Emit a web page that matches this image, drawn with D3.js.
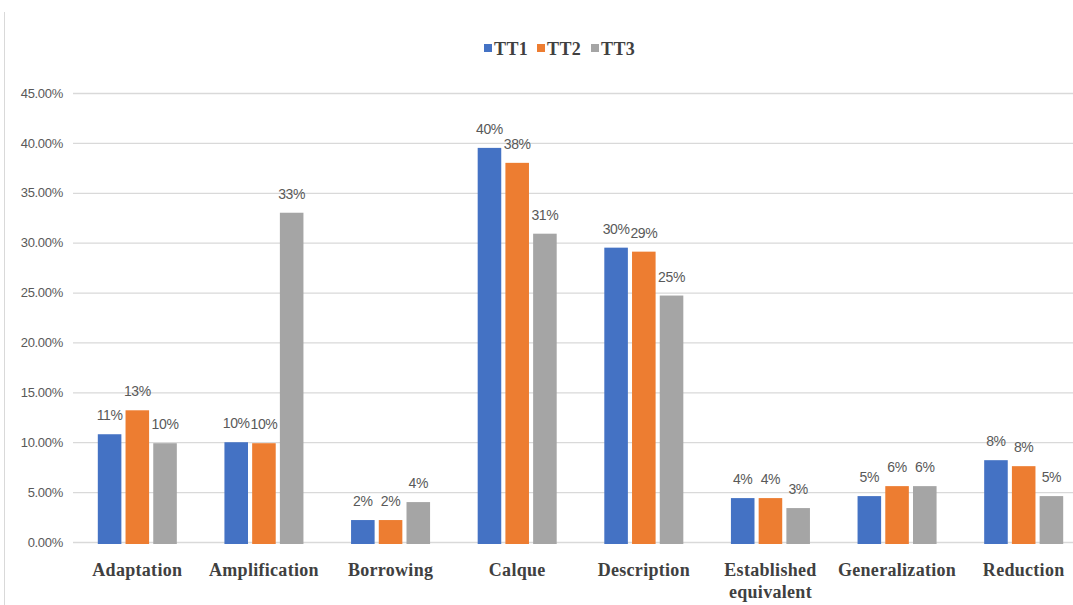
<!DOCTYPE html>
<html>
<head>
<meta charset="utf-8">
<script src="https://cdn.jsdelivr.net/npm/d3@7"></script>
<style>
  body { margin: 0; background: #fff; }
  svg { display: block; }
</style>
</head>
<body>
<svg id="chart"></svg>
<script>
var width = 1073;
var height = 605;

var categories = ["Adaptation", "Amplification", "Borrowing", "Calque", "Description",
  "Established equivalent", "Generalization", "Reduction"];
var series = ["TT1", "TT2", "TT3"];
var tt1 = [10.8, 10.0, 2.2, 39.5, 29.5, 4.4, 4.6, 8.2];
var tt2 = [13.2, 9.9, 2.2, 38.0, 29.1, 4.4, 5.6, 7.6];
var tt3 = [9.9, 33.0, 4.0, 30.9, 24.7, 3.4, 5.6, 4.6];
var yTicks = [0, 5, 10, 15, 20, 25, 30, 35, 40, 45];
var colors = ["#4472C4", "#ED7D31", "#A5A5A5"];

var values = [tt1, tt2, tt3];

var svg = d3.select("#chart").attr("width", width).attr("height", height);

// thin frame line on the left
svg.append("line")
  .attr("x1", 4.5).attr("x2", 4.5)
  .attr("y1", 12).attr("y2", height)
  .attr("stroke", "#d9d9d9").attr("stroke-width", 1);

var x0 = d3.scaleBand()
  .domain(categories)
  .range([74, 1087])
  .paddingInner(0.376)
  .paddingOuter(0.188);

var x1 = d3.scaleBand()
  .domain(series)
  .range([0, x0.bandwidth()])
  .paddingInner(0.15);

var y = d3.scaleLinear()
  .domain([0, 45])
  .range([542, 93]);

// gridlines + tick labels
var yAxis = svg.append("g")
  .attr("transform", "translate(73,0)")
  .call(d3.axisLeft(y)
    .tickValues(yTicks)
    .tickSize(-(width - 73))
    .tickPadding(10)
    .tickFormat(function(d) { return d3.format(".2f")(d) + "%"; }));

yAxis.select(".domain").remove();
yAxis.selectAll(".tick line")
  .attr("stroke", "#d9d9d9")
  .attr("stroke-width", 1.3);
yAxis.selectAll(".tick text")
  .attr("fill", "#595959")
  .style("font-family", "Liberation Sans, Arial, sans-serif")
  .style("font-size", "13px")
  .attr("letter-spacing", "-0.3");

// bars
var rows = [];
categories.forEach(function(c, i) {
  series.forEach(function(s, j) {
    rows.push({ cat: c, ser: s, idx: j, value: values[j][i] });
  });
});

var bars = svg.append("g");

bars.selectAll("rect")
  .data(rows)
  .enter()
  .append("rect")
  .attr("x", function(d) { return x0(d.cat) + x1(d.ser); })
  .attr("y", function(d) { return y(d.value); })
  .attr("width", x1.bandwidth())
  .attr("height", function(d) { return y(0) - y(d.value) + 2; })
  .attr("fill", function(d) { return colors[d.idx]; });

bars.selectAll("text")
  .data(rows)
  .enter()
  .append("text")
  .attr("x", function(d) { return x0(d.cat) + x1(d.ser) + x1.bandwidth() / 2; })
  .attr("y", function(d) { return y(d.value) - 14; })
  .attr("text-anchor", "middle")
  .attr("fill", "#595959")
  .style("font-family", "Liberation Sans, Arial, sans-serif")
  .style("font-size", "14px")
  .attr("letter-spacing", "-0.4")
  .text(function(d) { return Math.round(d.value) + "%"; });

// category labels
var catLabels = svg.append("g");
categories.forEach(function(c) {
  var words = c.split(" ");
  var lines = words.length > 1 ? words : [c];
  var t = catLabels.append("text")
    .attr("x", x0(c) + x0.bandwidth() / 2)
    .attr("y", 576)
    .attr("text-anchor", "middle")
    .attr("fill", "#404040")
    .style("font-family", "Liberation Serif, Times New Roman, serif")
    .style("font-weight", "bold")
    .style("font-size", "18px")
    .attr("letter-spacing", "0.3");
  lines.forEach(function(l, k) {
    t.append("tspan")
      .attr("x", x0(c) + x0.bandwidth() / 2)
      .attr("dy", k === 0 ? 0 : 22)
      .text(l);
  });
});

// legend
var legendX = [484, 537, 591];
var legend = svg.append("g");
series.forEach(function(s, j) {
  legend.append("rect")
    .attr("x", legendX[j])
    .attr("y", 44)
    .attr("width", 8)
    .attr("height", 8)
    .attr("fill", colors[j]);
  legend.append("text")
    .attr("x", legendX[j] + 10)
    .attr("y", 55)
    .attr("fill", "#404040")
    .style("font-family", "Liberation Serif, Times New Roman, serif")
    .style("font-weight", "bold")
    .style("font-size", "18px")
    .attr("letter-spacing", "0.4")
    .text(s);
});
</script>
</body>
</html>
